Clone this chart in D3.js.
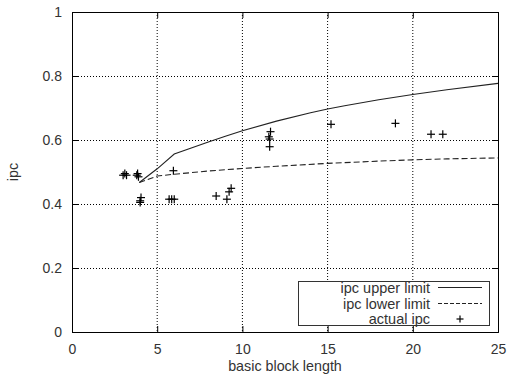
<!DOCTYPE html>
<html><head><meta charset="utf-8">
<script src="https://cdn.jsdelivr.net/npm/d3@7"></script>
<style>body{margin:0;background:#fff}text{font-family:"Liberation Sans",Arial,sans-serif}</style>
</head><body><svg id="c" width="510" height="381"></svg>
<script>
const xTicks = [0,5,10,15,20,25];
const yTicks = [0,0.2,0.4,0.6,0.8,1];
const upperX = [3.95,5,6,7,8,9,10,12,14,15,16,18,20,22,25];
const upperY = [0.467,0.51,0.556,0.575,0.594,0.612,0.629,0.659,0.685,0.697,0.707,0.726,0.742,0.757,0.777];
const lowerX = [3.95,5,6,8,10,12,15,18,20,22,25];
const lowerY = [0.467,0.4875,0.493,0.503,0.511,0.518,0.527,0.534,0.538,0.541,0.544];
const actualX = [3.0,3.1,3.2,3.8,3.85,3.9,4.0,4.05,4.0,5.7,5.85,6.0,5.95,8.46,9.09,9.22,9.34,11.65,11.55,11.6,11.6,15.2,18.98,21.07,21.76];
const actualY = [0.49,0.495,0.49,0.49,0.495,0.485,0.41,0.42,0.405,0.415,0.415,0.415,0.504,0.425,0.415,0.438,0.449,0.626,0.61,0.603,0.579,0.649,0.652,0.618,0.618];
const legendLabels = ["ipc upper limit","ipc lower limit","actual ipc"];

const svg = d3.select("#c");
const L=72,R=498,T=12,B=332;
const x = d3.scaleLinear().domain([0,25]).range([L,R]);
const y = d3.scaleLinear().domain([0,1]).range([B,T]);
const tc = "#333";

// grid
const g = svg.append("g");
xTicks.filter(v=>v>0&&v<25).forEach(v=>{
  g.append("line").attr("x1",x(v)).attr("x2",x(v)).attr("y1",T).attr("y2",B)
   .attr("stroke","#000").attr("stroke-width",1).attr("stroke-dasharray","1,2");
});
yTicks.filter(v=>v>0&&v<1).forEach(v=>{
  g.append("line").attr("x1",L).attr("x2",R).attr("y1",Math.round(y(v))+0.5).attr("y2",Math.round(y(v))+0.5)
   .attr("stroke","#000").attr("stroke-width",1).attr("stroke-dasharray","1,2");
});

// axes
const xa = svg.append("g").attr("transform",`translate(0,${B})`)
  .call(d3.axisBottom(x).tickValues(xTicks).tickSize(-6).tickPadding(12).tickFormat(d3.format("d")));
const ya = svg.append("g").attr("transform",`translate(${L},0)`)
  .call(d3.axisLeft(y).tickValues(yTicks).tickSize(-6).tickPadding(10).tickFormat(d=>d===0||d===1?String(d):d3.format(".1f")(d)));
const xt = svg.append("g").attr("transform",`translate(0,${T})`)
  .call(d3.axisTop(x).tickValues(xTicks).tickSize(-6).tickFormat(""));
const yr = svg.append("g").attr("transform",`translate(${R},0)`)
  .call(d3.axisRight(y).tickValues(yTicks).tickSize(-6).tickFormat(""));
[xa,ya,xt,yr].forEach(a=>{
  a.selectAll(".domain").attr("stroke","#000");
  a.selectAll(".tick line").attr("stroke","#000");
  a.selectAll("text").attr("font-size",14).attr("fill",tc).attr("font-family","Liberation Sans, Arial, sans-serif");
});

// curves
const line = d3.line().x(d=>x(d[0])).y(d=>y(d[1]));
svg.append("path").datum(upperX.map((v,i)=>[v,upperY[i]])).attr("d",line)
  .attr("fill","none").attr("stroke","#222").attr("stroke-width",1.1);
svg.append("path").datum(lowerX.map((v,i)=>[v,lowerY[i]])).attr("d",line)
  .attr("fill","none").attr("stroke","#222").attr("stroke-width",1.1).attr("stroke-dasharray","6,3");

// points
const plus = (sel,cx,cy,s)=>{
  sel.append("line").attr("x1",cx-s).attr("x2",cx+s).attr("y1",cy).attr("y2",cy).attr("stroke","#000").attr("stroke-width",1.2);
  sel.append("line").attr("x1",cx).attr("x2",cx).attr("y1",cy-s).attr("y2",cy+s).attr("stroke","#000").attr("stroke-width",1.2);
};
const pg = svg.append("g");
actualX.forEach((v,i)=>plus(pg,x(v),y(actualY[i]),4));

// legend
const lg = svg.append("g");
lg.append("rect").attr("x",298.5).attr("y",281.5).attr("width",191).attr("height",44)
  .attr("fill","#fff").attr("stroke","#333").attr("stroke-width",1);
const rowsY=[287.5,303.5,319];
legendLabels.forEach((t,i)=>{
  lg.append("text").attr("x",430).attr("y",rowsY[i]).attr("dy","0.35em").attr("text-anchor","end")
    .attr("font-size",14.5).attr("fill",tc).text(t);
});
lg.append("line").attr("x1",438).attr("x2",482).attr("y1",rowsY[0]).attr("y2",rowsY[0]).attr("stroke","#222").attr("stroke-width",1.1);
lg.append("line").attr("x1",438).attr("x2",482).attr("y1",rowsY[1]).attr("y2",rowsY[1]).attr("stroke","#222").attr("stroke-width",1.1).attr("stroke-dasharray","4,2");
plus(lg,460,rowsY[2],3.5);

// axis titles
svg.append("text").attr("x",285).attr("y",371).attr("text-anchor","middle").attr("font-size",14.3).attr("fill",tc).text("basic block length");
svg.append("text").attr("transform","translate(18,172) rotate(-90)").attr("text-anchor","middle").attr("font-size",14.3).attr("fill",tc).text("ipc");
</script></body></html>
